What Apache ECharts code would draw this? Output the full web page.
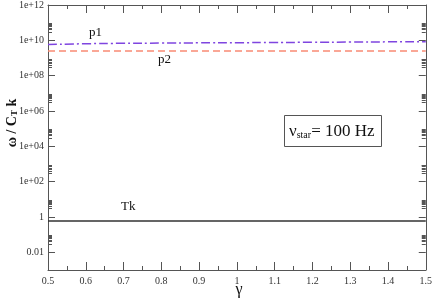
<!DOCTYPE html>
<html><head><meta charset="utf-8">
<script src="https://cdn.jsdelivr.net/npm/echarts@6/dist/echarts.min.js"></script>
<style>html,body{margin:0;padding:0;background:#fff}#c{width:435px;height:300px}</style>
</head><body><div id="c"></div>
<script>
var gammaVals = [0.5,0.6,0.7,0.8,0.9,1.0,1.1,1.2,1.3,1.4,1.5];
var p1Vals = [5.8e9,6.4e9,6.8e9,7.0e9,7.2e9,7.35e9,7.55e9,7.75e9,7.95e9,8.2e9,8.4e9];
var p2Vals = [2.5e9,2.5e9,2.5e9,2.5e9,2.5e9,2.5e9,2.5e9,2.5e9,2.5e9,2.5e9,2.5e9];
var tkVals = [0.6,0.6,0.6,0.6,0.6,0.6,0.6,0.6,0.6,0.6,0.6];
var yTickLabels = [0.01,1,1e2,1e4,1e6,1e8,1e10,1e12];
var yMinorTicks = [];
[-2,0,2,4,6,8,10].forEach(function(e){for(var m=3;m<=9;m++){yMinorTicks.push(m*Math.pow(10,e));}});

function pairs(v){return gammaVals.map(function(g,i){return [g,v[i]];});}
function fmtY(v){
  if (v===1) return '1';
  if (v<1) return '0.01';
  var e=Math.round(Math.log10(v));
  return '1e+'+(e<10?'0'+e:e);
}
var serif = 'Liberation Serif, DejaVu Serif, serif';
var axisCol = '#555';
var chart = echarts.init(document.getElementById('c'));
var baseY = {type:'log', logBase:10, min:0.001, max:1e12, splitLine:{show:false}, minorTick:{show:false}};
var baseX = {type:'value', min:0.5, max:1.5, interval:0.1, splitLine:{show:false}};
chart.setOption({
  animation:false,
  grid:{left:48, right:9, top:5, bottom:30, containLabel:false},
  xAxis:[
    Object.assign({}, baseX, {position:'bottom',
      axisLine:{show:true, lineStyle:{color:axisCol, width:1}},
      axisTick:{show:true, inside:true, length:8, lineStyle:{color:axisCol}},
      minorTick:{show:true, splitNumber:2, length:4, lineStyle:{color:axisCol}},
      axisLabel:{show:true, fontFamily:serif, fontSize:10, color:'#333', margin:6,
        formatter:function(v){return Math.abs(v-1)<1e-9?'1':(+v.toFixed(1)).toString();}}}),
    Object.assign({}, baseX, {position:'top',
      axisLine:{show:true, lineStyle:{color:axisCol, width:1}},
      axisTick:{show:true, inside:true, length:8, lineStyle:{color:axisCol}},
      minorTick:{show:true, splitNumber:2, length:4, lineStyle:{color:axisCol}},
      axisLabel:{show:false}})
  ],
  yAxis:[
    Object.assign({}, baseY, {position:'left',
      axisLine:{show:true, lineStyle:{color:axisCol, width:1}},
      axisTick:{show:true, inside:true, length:7, customValues:yTickLabels, lineStyle:{color:axisCol}},
      axisLabel:{show:true, customValues:yTickLabels, fontFamily:serif, fontSize:10, color:'#333', margin:4,
        formatter:function(v){return fmtY(v);}}}),
    Object.assign({}, baseY, {position:'left',
      axisLine:{show:false},
      axisTick:{show:true, inside:true, length:4, customValues:yMinorTicks, lineStyle:{color:axisCol}},
      axisLabel:{show:false}}),
    Object.assign({}, baseY, {position:'right',
      axisLine:{show:true, lineStyle:{color:axisCol, width:1}},
      axisTick:{show:true, inside:true, length:7, customValues:yTickLabels, lineStyle:{color:axisCol}},
      axisLabel:{show:false}}),
    Object.assign({}, baseY, {position:'right',
      axisLine:{show:false},
      axisTick:{show:true, inside:true, length:4, customValues:yMinorTicks, lineStyle:{color:axisCol}},
      axisLabel:{show:false}})
  ],
  series:[
    {type:'line', name:'p1', data:pairs(p1Vals), showSymbol:false, smooth:true,
      lineStyle:{color:'#7f45e0', width:1.5, type:[9,3,2,3]}},
    {type:'line', name:'p2', data:pairs(p2Vals), showSymbol:false,
      lineStyle:{color:'#f98b74', width:1.5, type:[7,4]}},
    {type:'line', name:'Tk', data:pairs(tkVals), showSymbol:false,
      lineStyle:{color:'#333', width:1.5}}
  ],
  graphic:[
    {type:'text', left:89, top:26, style:{text:'p1', font:'13px '+serif, fill:'#111'}},
    {type:'text', left:158, top:53, style:{text:'p2', font:'13px '+serif, fill:'#111'}},
    {type:'text', left:121, top:200, style:{text:'Tk', font:'13px '+serif, fill:'#111'}},
    {type:'rect', shape:{x:284.5, y:115.5, width:97, height:31}, style:{fill:'#fff', stroke:'#555', lineWidth:1}},
    {type:'text', x:289, y:132, style:{
      text:'{a|ν}{b|star}{a|= 100 Hz}', verticalAlign:'middle',
      rich:{a:{fontFamily:serif, fontSize:17, fill:'#111', verticalAlign:'bottom'},
            b:{fontFamily:serif, fontSize:10, fill:'#111', verticalAlign:'bottom', padding:[3,0,0,0]}}}},
    {type:'text', x:12, y:123, rotation:Math.PI/2, style:{
      text:'{a|ω / C}{b|T}{a| k}', align:'center', verticalAlign:'middle',
      rich:{a:{fontFamily:serif, fontSize:14, fontWeight:'bold', fill:'#111'},
            b:{fontFamily:serif, fontSize:9, fontWeight:'bold', fill:'#111', padding:[6,0,0,0]}}}},
    {type:'text', x:239, y:290, style:{text:'γ', font:'16px '+serif, fill:'#111', align:'center', verticalAlign:'middle'}}
  ]
});
</script></body></html>
